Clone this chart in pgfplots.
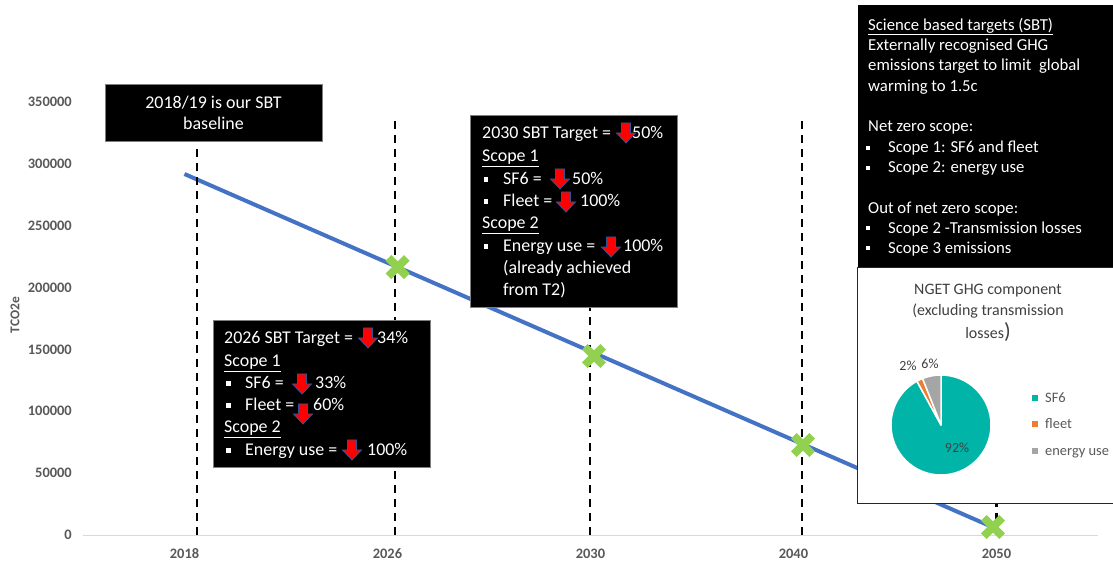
\documentclass[border=0pt]{standalone}
\usepackage{pgfplots}
\pgfplotsset{compat=1.18}
\usepackage{pgfplotstable}
\usepackage{fontspec}
\setmainfont{Carlito}
\definecolor{lineblue}{HTML}{4472C4}
\definecolor{xgreen}{HTML}{92D050}
\definecolor{tickgray}{HTML}{595959}
\definecolor{axgray}{HTML}{D9D9D9}
\definecolor{arrowblue}{HTML}{2F5597}
\definecolor{pieteal}{RGB}{0,180,168}
\definecolor{pieorange}{HTML}{ED7D31}
\definecolor{piegray}{HTML}{A5A5A5}
\definecolor{titlegray}{HTML}{404040}
\definecolor{boxedge}{HTML}{7F7F7F}

\newcommand{\dnarrow}[2]{%
  \filldraw[fill=red, draw=arrowblue, line width=0.8bp, line join=miter]
    (#1-4.5,#2-10) -- ++(9,0) -- ++(0,10) -- ++(5,0) -- ++(-9.5,10) -- ++(-9.5,-10) -- ++(5,0) -- cycle;}
\newcommand{\bul}[3]{\fill[white] (#1,#2-#3/2) rectangle ++(#3,#3);}

\pgfplotstableread{
x y
0 291800
4 5000
}\trendline
\pgfplotstableread{
x y
1.050 216600
2.017 144700
3.047 72700
3.983 6500
}\crosses

\begin{document}
\begin{tikzpicture}
\path[use as bounding box, fill=white] (0,0) rectangle (1113bp,562bp);
\begin{axis}[
  at={(83bp,27bp)}, anchor=south west,
  scale only axis, width=1015bp, height=433bp,
  xmin=-0.5, xmax=4.5, ymin=0, ymax=350000,
  xtick={0,1,2,3,4}, xticklabels={2018,2026,2030,2040,2050},
  ytick={0,50000,100000,150000,200000,250000,300000,350000},
  scaled y ticks=false,
  /pgf/number format/fixed,
  /pgf/number format/1000 sep={},
  /pgf/number format/assume math mode=true,
  axis line style={draw=none},
  major tick length=0pt,
  tick label style={font=\fontsize{14.5}{16}\selectfont\bfseries, text=tickgray},
  yticklabel style={anchor=east, inner sep=0pt, xshift=-11bp},
  xticklabel style={anchor=center, inner sep=0pt, yshift=-19bp},
  ylabel={TCO2e},
  ylabel style={at={(axis description cs:-0.067,0.508)}, anchor=center, font=\fontsize{13.5}{15}\selectfont\bfseries, text=tickgray},
  clip=false,
]
\draw[axgray, line width=1bp] (rel axis cs:0,0) -- (rel axis cs:1,0);
\addplot[lineblue, line width=4bp, no marks] table {\trendline};
\addplot[only marks, mark=x, mark size=13bp, xgreen, mark options={line width=8bp, line cap=butt}] table {\crosses};
\addplot[black, line width=2.2bp, dash pattern=on 8bp off 6bp, no marks] coordinates {(0.062,0) (0.062,312800)};
\addplot[black, line width=2.2bp, dash pattern=on 8bp off 6bp, no marks] coordinates {(1.037,0) (1.037,335400)};
\addplot[black, line width=2.2bp, dash pattern=on 8bp off 6bp, no marks] coordinates {(1.998,0) (1.998,335400)};
\addplot[black, line width=2.2bp, dash pattern=on 8bp off 6bp, no marks] coordinates {(3.042,0) (3.042,335400)};
\addplot[black, line width=2.2bp, dash pattern=on 8bp off 6bp, no marks] coordinates {(4.0,0) (4.0,335400)};
\end{axis}

\begin{scope}[x=1bp, y=1bp, shift={(0bp,562bp)}, yscale=-1,
  wt/.style={text=white, inner sep=0pt, anchor=base west, font=\fontsize{18}{22}\selectfont},
  ws/.style={text=white, inner sep=0pt, anchor=base west, font=\fontsize{16.8}{20}\selectfont}]
% baseline box
\filldraw[fill=black, draw=boxedge, line width=0.75bp] (105,84) rectangle (322,141);
\node[wt, anchor=base] at (213.5,109) {2018/19 is our SBT};
\node[wt, anchor=base] at (213.5,130) {baseline};

% 2030 box
\filldraw[fill=black, draw=boxedge, line width=0.75bp] (470,115) rectangle (677,307);
\node[wt] at (482,139) {2030 SBT Target =};
\node[wt] at (632,139) {50\%};
\node[wt] at (482,162) {\underline{Scope 1}};
\bul{483.5}{179.2}{4.7}
\node[wt] at (503,185) {SF6 =};
\node[wt] at (572,185) {50\%};
\bul{483.5}{201.2}{4.7}
\node[wt] at (503,207) {Fleet =};
\node[wt] at (580,207) {100\%};
\node[wt] at (482,229) {\underline{Scope 2}};
\bul{483.5}{246.2}{4.7}
\node[wt] at (503,252) {Energy use =};
\node[wt] at (623,252) {100\%};
\node[wt] at (503,274) {(already achieved};
\node[wt] at (503,296) {from T2)};
\dnarrow{626}{133}
\dnarrow{560}{179}
\dnarrow{566}{202}
\dnarrow{611}{247}

% 2026 box
\filldraw[fill=black, draw=boxedge, line width=0.75bp] (213,320) rectangle (430,467);
\node[wt] at (224,344) {2026 SBT Target =};
\node[wt] at (377,344) {34\%};
\node[wt] at (224,367) {\underline{Scope 1}};
\bul{226}{383.2}{4.7}
\node[wt] at (245,389) {SF6 =};
\node[wt] at (315,389) {33\%};
\bul{226}{405.2}{4.7}
\node[wt] at (245,411) {Fleet =};
\node[wt] at (313,411) {60\%};
\node[wt] at (224,433) {\underline{Scope 2}};
\bul{226}{450.2}{4.7}
\node[wt] at (245,456) {Energy use =};
\node[wt] at (367,456) {100\%};
\dnarrow{368}{338}
\dnarrow{302}{384}
\dnarrow{303}{414}
\dnarrow{352}{450}

% SBT explanation box
\fill[black] (858,5) rectangle (1120,268);
\node[ws] at (868,30.3) {\underline{Science based targets (SBT)}};
\node[ws] at (868,51) {Externally recognised GHG};
\node[ws] at (868,70.5) {emissions target to limit\ \ global};
\node[ws] at (868,91.3) {warming to 1.5c};
\node[ws] at (868,131.3) {Net zero scope:};
\bul{866}{147.7}{4.3}
\node[ws] at (888,153) {Scope 1: SF6 and fleet};
\bul{866}{167.7}{4.3}
\node[ws] at (888,173) {Scope 2: energy use};
\node[ws] at (868,213.3) {Out of net zero scope:};
\bul{866}{228}{4.3}
\node[ws] at (888,233.3) {Scope 2 -Transmission losses};
\bul{866}{248}{4.3}
\node[ws] at (888,253.3) {Scope 3 emissions};

% pie box
\filldraw[fill=white, draw=black!85, line width=1bp] (857,268) rectangle (1120,504);
\node[inner sep=0pt, anchor=base, text=titlegray, font=\fontsize{16}{19}\selectfont] at (988,295) {NGET GHG component};
\node[inner sep=0pt, anchor=base, text=titlegray, font=\fontsize{16}{19}\selectfont] at (988,316) {(excluding transmission};
\node[inner sep=0pt, anchor=base, text=titlegray, font=\fontsize{16}{19}\selectfont] at (988,339) {losses{\fontsize{22}{22}\selectfont)}};
\pgfmathsetmacro\startang{-90}
\foreach \v/\c in {92/pieteal, 2/pieorange, 6/piegray} {
  \pgfmathsetmacro\endang{\startang+3.6*\v}
  \filldraw[fill=\c, draw=white, line width=1.5bp, line join=round] (941,425) -- ++(\startang:50) arc[start angle=\startang, end angle=\endang, radius=50] -- cycle;
  \global\let\startang\endang
}
\node[inner sep=0pt, anchor=base, text=titlegray, font=\fontsize{14}{16}\selectfont] at (908,371) {2\%};
\node[inner sep=0pt, anchor=base, text=titlegray, font=\fontsize{14}{16}\selectfont] at (930,368.5) {6\%};
\node[inner sep=0pt, anchor=base, text=titlegray, font=\fontsize{14}{16}\selectfont] at (957,452.5) {92\%};
\fill[pieteal] (1032,395) rectangle ++(6,6);
\fill[pieorange] (1032,421.5) rectangle ++(6,6);
\fill[piegray] (1032,448) rectangle ++(6,6);
\node[inner sep=0pt, anchor=base west, text=tickgray, font=\fontsize{14.5}{16}\selectfont] at (1045,402.5) {SF6};
\node[inner sep=0pt, anchor=base west, text=tickgray, font=\fontsize{14.5}{16}\selectfont] at (1045,429) {fleet};
\node[inner sep=0pt, anchor=base west, text=tickgray, font=\fontsize{14.5}{16}\selectfont] at (1045,455.5) {energy use};
\end{scope}
\end{tikzpicture}
\end{document}
